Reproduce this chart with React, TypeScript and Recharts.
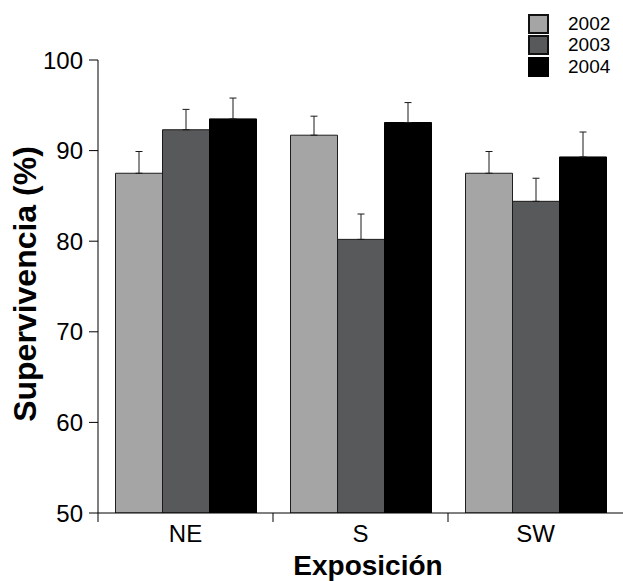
import { BarChart, Bar, XAxis, YAxis, ErrorBar } from 'recharts'

const categories = ['NE', 'S', 'SW']
const years = ['2002', '2003', '2004']
const surv2002 = [87.5, 91.7, 87.5]
const surv2003 = [92.3, 80.2, 84.4]
const surv2004 = [93.5, 93.1, 89.3]
const err2002 = [2.4, 2.1, 2.4]
const err2003 = [2.25, 2.8, 2.55]
const err2004 = [2.3, 2.2, 2.75]
const yTicks = [50, 60, 70, 80, 90, 100]

const fills = ['#a5a5a5', '#58595b', '#000000']
const strokes = ['#1e1e1e', '#1a1a1a', '#000000']
const font = "Arial, 'Liberation Sans', sans-serif"

const data = categories.map((c, i) => ({
  exp: c,
  y2002: surv2002[i], e2002: [0, err2002[i]],
  y2003: surv2003[i], e2003: [0, err2003[i]],
  y2004: surv2004[i], e2004: [0, err2004[i]],
}))

function XTick({ x, y, payload }: any) {
  const half = payload?.offset ?? 87.5
  return (
    <g>
      <line x1={x - half} x2={x - half} y1={y - 12} y2={y - 3} stroke="#000" strokeWidth={1} />
      <text x={x} y={y} dy="0.71em" textAnchor="middle" fontSize={24} fontFamily={font} fill="#000">
        {payload.value}
      </text>
    </g>
  )
}

function YLabel() {
  return (
    <text
      x={36} y={284}
      transform="rotate(-90 36 284)"
      textAnchor="middle"
      fontSize={32}
      fontWeight="bold"
      fontFamily={font}
      fill="#000"
    >
      Supervivencia (%)
    </text>
  )
}

function XLabel() {
  return (
    <text x={368} y={575} textAnchor="middle" fontSize={28} fontWeight="bold" fontFamily={font} fill="#000">
      Exposición
    </text>
  )
}

export default function App() {
  return (
    <div style={{ position: 'absolute', left: 0, top: 0, width: 623, height: 581, background: '#fff' }}>
      <BarChart
        width={623}
        height={581}
        data={data}
        margin={{ top: 60, right: 0, bottom: 0, left: 0 }}
        barCategoryGap="10%"
        barGap={0}
      >
        <XAxis
          dataKey="exp"
          height={68}
          tickSize={9}
          tickMargin={3}
          tickLine={false}
          axisLine={{ stroke: '#000', strokeWidth: 1 }}
          tick={<XTick />}
          label={<XLabel />}
        />
        <YAxis
          width={98}
          domain={[50, 100]}
          ticks={yTicks}
          allowDataOverflow
          tickSize={9}
          tickMargin={6}
          axisLine={{ stroke: '#000', strokeWidth: 1 }}
          tickLine={{ stroke: '#000', strokeWidth: 1 }}
          tick={{ fontSize: 24, fontFamily: font, fill: '#000' }}
          label={<YLabel />}
        />
        {years.map((yr, i) => (
          <Bar
            key={yr}
            dataKey={`y${yr}`}
            fill={fills[i]}
            stroke={strokes[i]}
            strokeWidth={1}
            isAnimationActive={false}
          >
            <ErrorBar dataKey={`e${yr}`} width={3.5} stroke="#1a1a1a" strokeWidth={1} direction="y" />
          </Bar>
        ))}
      </BarChart>
      <div style={{ position: 'absolute', left: 528, top: 13, fontFamily: font, fontSize: 19 }}>
        {years.map((yr, i) => (
          <div key={yr} style={{ display: 'flex', alignItems: 'center', height: 21.5 }}>
            <div
              style={{
                width: 17, height: 16,
                background: fills[i],
                border: `2px solid ${i === 2 ? '#000' : '#111'}`,
              }}
            />
            <span style={{ marginLeft: 19, lineHeight: '20px' }}>{yr}</span>
          </div>
        ))}
      </div>
    </div>
  )
}
